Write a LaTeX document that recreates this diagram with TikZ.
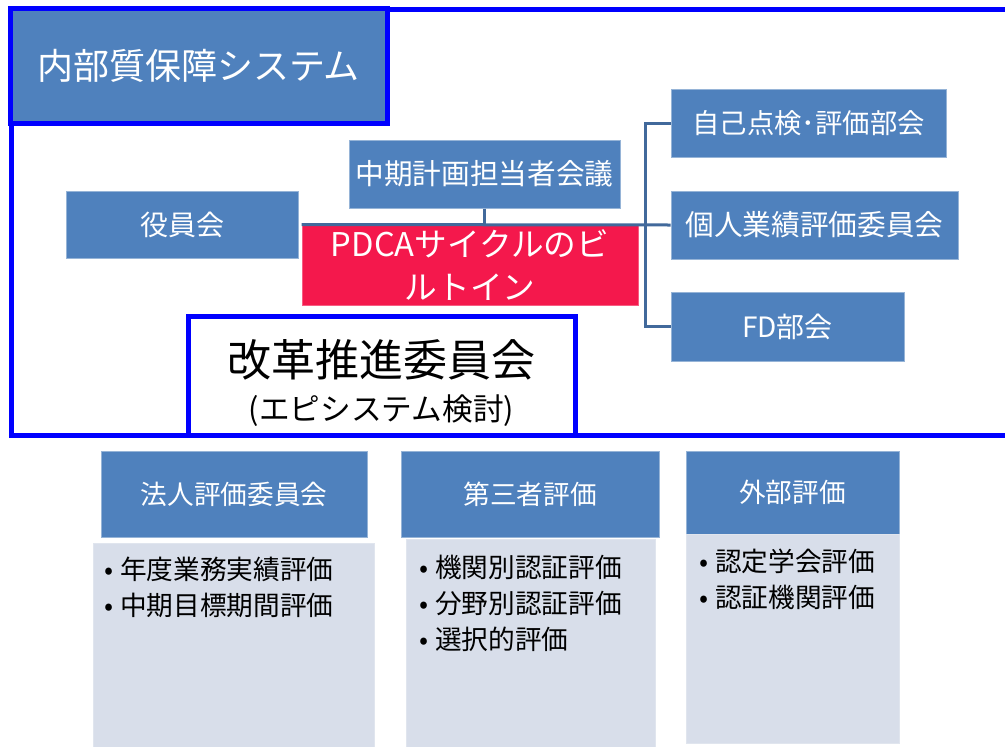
\documentclass[tikz,border=0pt]{standalone}
\usepackage{fontspec}
\setmainfont{Noto Sans CJK JP}
\definecolor{boxblue}{RGB}{79,129,189}
\definecolor{boxedge}{RGB}{150,180,215}
\definecolor{framecol}{RGB}{0,0,255}
\definecolor{pdcared}{RGB}{244,24,76}
\definecolor{linecol}{RGB}{65,105,155}
\definecolor{bodyfill}{RGB}{216,222,234}
\begin{document}
\begin{tikzpicture}[x=0.75pt,y=-0.75pt,
        size/.style 2 args={minimum width=#1*0.75pt,minimum height=#2*0.75pt},
        box/.style={rectangle,draw=boxedge,fill=boxblue,text=white,
          line width=0.75pt,inner sep=0pt,align=center},
        frame/.style={draw=framecol,line width=3.75pt},
        conn/.style={draw=linecol,line width=2.25pt},
        body/.style={rectangle,draw=bodyfill!80!white,fill=bodyfill,inner sep=0pt},
        item/.style={align=left,inner sep=0pt,anchor=north west,
          font=\fontsize{20}{27}\selectfont}]
      \useasboundingbox (0,0) rectangle (1005,746);
      \clip (0,0) rectangle (1005,746);
      % inner quality frame
      \draw[frame] (11,9) rectangle (1040,435);
      \node (title) at (198.5,65.5) [box,frame,size={377}{115},
        font=\fontsize{27}{30}\selectfont] {内部質保障システム};
      \node (yakuin) at (182,224.5) [box,size={232}{67},
        font=\fontsize{21}{25}\selectfont] {役員会};
      \node (chuki) at (484.5,174) [box,size={271}{68},
        font=\fontsize{21.5}{25}\selectfont] {中期計画担当者会議};
      \node (pdca) at (470,265) [box,draw=pdcared!70!white,fill=pdcared,size={336}{80},
        font=\fontsize{24.5}{32}\selectfont] {PDCAサイクルのビ\\ルトイン};
      \node (jiko) at (808.5,123) [box,size={275}{68},
        font=\fontsize{20.5}{25}\selectfont] {自己点検･評価部会};
      \node (kojin) at (814.5,225) [box,size={287}{68},
        font=\fontsize{21.5}{25}\selectfont] {個人業績評価委員会};
      \node (fd) at (787.5,326.5) [box,size={233}{69},
        font=\fontsize{21}{25}\selectfont] {FD部会};
      \node (kaikaku) at (381.5,375.5) [rectangle,frame,fill=white,size={387}{119},
        align=center,inner sep=0pt]
        {{\fontsize{33}{38}\selectfont\rule{0pt}{39pt}改革推進委員会}\\[10pt]
         {\fontsize{23}{28}\selectfont (エピシステム検討)}};
      \draw[conn] (chuki.south) -- (chuki.south |- pdca.north);
      \draw[conn] (pdca.north west) -- (kojin.west);
      \draw[conn] (jiko.west) -- ++(-25,0) |- (fd.west);
      % evaluation from outside
      \node (hojin) at (234,494) [box,size={266}{86},
        font=\fontsize{20}{25}\selectfont] {法人評価委員会};
      \node (hojinbody) at (233.5,652) [body,size={281}{218}] {};
      \node (hojinlist) at (104,557) [item]
        {•\hspace{5pt}年度業務実績評価\\•\hspace{5pt}中期目標期間評価};
      \node (daisan) at (530,494) [box,size={258}{86},
        font=\fontsize{20}{25}\selectfont] {第三者評価};
      \node (daisanbody) at (530.5,650) [body,size={249}{222}] {};
      \node (daisanlist) at (419,555) [item]
        {•\hspace{5pt}機関別認証評価\\•\hspace{5pt}分野別認証評価\\•\hspace{5pt}選択的評価};
      \node (gaibu) at (792.5,492.5) [box,size={213}{83},
        font=\fontsize{20}{25}\selectfont] {外部評価};
      \node (gaibubody) at (792.5,638.5) [body,size={213}{209}] {};
      \node (gaibulist) at (699,549) [item]
        {•\hspace{5pt}認定学会評価\\•\hspace{5pt}認証機関評価};
\end{tikzpicture}
\end{document}
